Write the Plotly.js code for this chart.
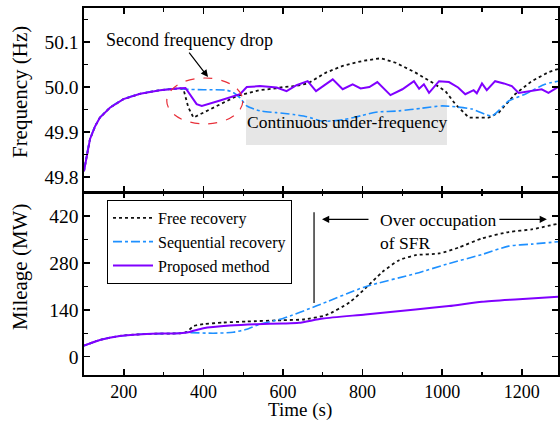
<!DOCTYPE html>
<html><head><meta charset="utf-8">
<script src="https://cdn.plot.ly/plotly-3.0.1.min.js"></script>
<style>html,body{margin:0;padding:0;background:#fff}</style>
</head><body><div id="chart" style="width:560px;height:421px"></div>
<script>
// ---- Frequency panel data ----
const freqFreeT  = [100,107,115,128,140,165,199,241,291,341,350,362,375,400,442,484,500,542,582,600,630,662,708,750,800,846,883,933,975,1008,1033,1067,1117,1142,1183,1225,1267,1291];
const freqFreeV  = [49.813,49.85,49.884,49.913,49.932,49.954,49.973,49.985,49.993,49.997,49.995,49.955,49.932,49.943,49.962,49.98,49.984,49.993,49.997,50.0,50.002,50.008,50.032,50.047,50.058,50.064,50.054,50.032,50.01,49.991,49.962,49.932,49.932,49.943,49.984,50.013,50.033,50.04];
const freqSeqT   = [100,107,115,128,140,165,199,241,291,341,355,400,458,475,492,509,542,584,626,660,700,750,800,833,892,950,1000,1033,1075,1125,1167,1208,1258,1291];
const freqSeqV   = [49.813,49.85,49.884,49.913,49.932,49.954,49.973,49.985,49.993,49.997,49.995,49.994,49.993,49.988,49.976,49.958,49.947,49.943,49.939,49.934,49.924,49.927,49.937,49.944,49.947,49.953,49.958,49.956,49.951,49.936,49.969,49.984,50.006,50.013];
const freqPropT  = [100,107,115,128,140,165,199,241,291,341,355,383,396,442,492,509,542,584,609,634,662,683,705,725,750,775,795,817,837,855,870,900,929,942,954,967,992,1017,1040,1058,1079,1087,1100,1112,1133,1155,1175,1192,1217,1250,1267,1291];
const freqPropV  = [49.813,49.85,49.884,49.913,49.932,49.954,49.973,49.985,49.993,49.997,49.998,49.962,49.958,49.97,49.984,50.0,50.002,49.999,49.991,50.004,50.013,49.991,50.004,50.017,49.995,50.006,49.997,50.0,50.011,49.996,49.982,49.995,50.013,49.996,50.006,49.987,50.013,50.011,49.999,49.984,49.993,49.986,50.008,49.993,50.013,50.008,50.002,49.987,49.99,49.995,49.987,50.0];

// ---- Mileage panel data ----
const milFreeT = [100,140,190,257,341,358,375,400,450,509,600,650,708,767,807,850,892,933,992,1042,1100,1167,1225,1291];
const milFreeV = [33,50,62,68,70,74,91,97,102,105,109,111,124,162,204,253,288,303,308,326,353,372,380,397];
const milSeqT  = [100,140,190,257,341,358,425,475,509,542,600,683,807,933,1017,1100,1167,1225,1291];
const milSeqV  = [33,50,62,68,70,72,70,73,82,97,114,151,209,248,278,305,330,336,343];
const milPropT = [100,140,190,257,341,366,400,467,534,600,640,700,807,933,1017,1100,1183,1291];
const milPropV = [33,50,62,68,70,74,85,93,97,99,101,114,126,141,151,164,171,179];

const seriesNames = ["Free recovery","Sequential recovery","Proposed method"];
const colFree = "#111111", colSeq = "#1e90ff", colProp = "#8000ff";
const FONT = "Liberation Serif";

const traces = [
  {x:freqFreeT, y:freqFreeV, xaxis:"x", yaxis:"y", mode:"lines", name:seriesNames[0], showlegend:false,
   line:{color:colFree, width:1.8, dash:"dot"}},
  {x:freqSeqT, y:freqSeqV, xaxis:"x", yaxis:"y", mode:"lines", name:seriesNames[1], showlegend:false,
   line:{color:colSeq, width:1.6, dash:"dashdot", shape:"spline", smoothing:0.6}},
  {x:freqPropT, y:freqPropV, xaxis:"x", yaxis:"y", mode:"lines", name:seriesNames[2], showlegend:false,
   line:{color:colProp, width:2}},
  {x:milFreeT, y:milFreeV, xaxis:"x2", yaxis:"y2", mode:"lines", name:seriesNames[0],
   line:{color:colFree, width:1.8, dash:"dot", shape:"spline", smoothing:0.6}},
  {x:milSeqT, y:milSeqV, xaxis:"x2", yaxis:"y2", mode:"lines", name:seriesNames[1],
   line:{color:colSeq, width:1.6, dash:"dashdot", shape:"spline", smoothing:0.6}},
  {x:milPropT, y:milPropV, xaxis:"x2", yaxis:"y2", mode:"lines", name:seriesNames[2],
   line:{color:colProp, width:2, shape:"spline", smoothing:0.6}}
];

const axBase = {showline:true, linecolor:"#000", linewidth:1.6, mirror:"allticks",
  ticks:"inside", ticklen:6, tickwidth:1.5, tickcolor:"#000", showgrid:false, zeroline:false,
  tickfont:{family:FONT, size:19.5, color:"#000"},
  minor:{ticks:"inside", ticklen:3.5, tickwidth:1.2, tickcolor:"#000", showgrid:false}};

const split = 0.4973;
const layout = {
  width:560, height:421,
  margin:{l:84, r:2, t:8, b:46},
  paper_bgcolor:"#fff", plot_bgcolor:"#fff",
  font:{family:FONT, color:"#000"},
  xaxis:Object.assign({}, axBase, {domain:[0,1], anchor:"y", range:[100,1291], dtick:200, tick0:0,
    showticklabels:false, minor:Object.assign({}, axBase.minor, {dtick:100})}),
  yaxis:Object.assign({}, axBase, {domain:[split,1], anchor:"x", range:[49.7656,50.1756], dtick:0.1, tick0:49.8,
    tickformat:".1f", minor:Object.assign({}, axBase.minor, {dtick:0.05})}),
  xaxis2:Object.assign({}, axBase, {domain:[0,1], anchor:"y2", range:[100,1291], dtick:200, tick0:0,
    tickfont:{family:FONT, size:18, color:"#000"},
    minor:Object.assign({}, axBase.minor, {dtick:100})}),
  yaxis2:Object.assign({}, axBase, {domain:[0,split], anchor:"x2", range:[-54.6,490], dtick:140, tick0:0,
    minor:Object.assign({}, axBase.minor, {dtick:70})}),
  showlegend:true,
  legend:{x:0.0485, y:0.477, xanchor:"left", yanchor:"top", bgcolor:"#fff", bordercolor:"#000", borderwidth:1,
    font:{family:FONT, size:16, color:"#000"}, tracegroupgap:0, itemwidth:40},
  shapes:[
    {type:"rect", xref:"x", yref:"y", x0:507, x1:1012, y0:49.871, y1:49.972, fillcolor:"#e6e6e6", line:{width:0}, layer:"below"},
    {type:"circle", xref:"x", yref:"y", x0:308, x1:499, y0:49.918, y1:50.02, line:{color:"#e8303a", width:1.2, dash:"dash"}},
    {type:"line", xref:"x2", yref:"y2", x0:678, x1:678, y0:160, y1:431, line:{color:"#000", width:1.2}}
  ],
  annotations:[
    {xref:"paper", yref:"paper", x:-0.135, y:0.771, xanchor:"center", yanchor:"middle", text:"Frequency (Hz)", textangle:-90, showarrow:false,
     font:{family:FONT, size:21}},
    {xref:"paper", yref:"paper", x:-0.135, y:0.294, xanchor:"center", yanchor:"middle", text:"Mileage (MW)", textangle:-90, showarrow:false,
     font:{family:FONT, size:21}},
    {xref:"paper", yref:"paper", x:0.456, y:-0.095, xanchor:"center", yanchor:"middle", text:"Time (s)", showarrow:false,
     borderpad:0, font:{family:FONT, size:19}},
    {xref:"x", yref:"y", x:366, y:50.104, text:"Second frequency drop", showarrow:false,
     font:{family:FONT, size:18}},
    {xref:"x", yref:"y", x:411.6, y:50.022, ax:-20, ay:-26, text:"", showarrow:true,
     arrowhead:2, arrowsize:1.2, arrowwidth:1.2, arrowcolor:"#000"},
    {xref:"x", yref:"y", x:761, y:49.922, text:"Continuous under-frequency", showarrow:false,
     font:{family:FONT, size:17.5}},
    {xref:"x2", yref:"y2", x:698, y:410, ax:48, ay:0, text:"", showarrow:true,
     arrowhead:2, arrowsize:1.2, arrowwidth:1.2, arrowcolor:"#000"},
    {xref:"x2", yref:"y2", x:1263, y:410, ax:-49, ay:0, text:"", showarrow:true,
     arrowhead:2, arrowsize:1.2, arrowwidth:1.2, arrowcolor:"#000"},
    {xref:"x2", yref:"y2", x:839, y:374, xanchor:"left", align:"left", text:"Over occupation<br>of SFR", showarrow:false,
     font:{family:FONT, size:17.5}}
  ]
};

Plotly.newPlot("chart", traces, layout, {displayModeBar:false, staticPlot:true});
</script></body></html>
